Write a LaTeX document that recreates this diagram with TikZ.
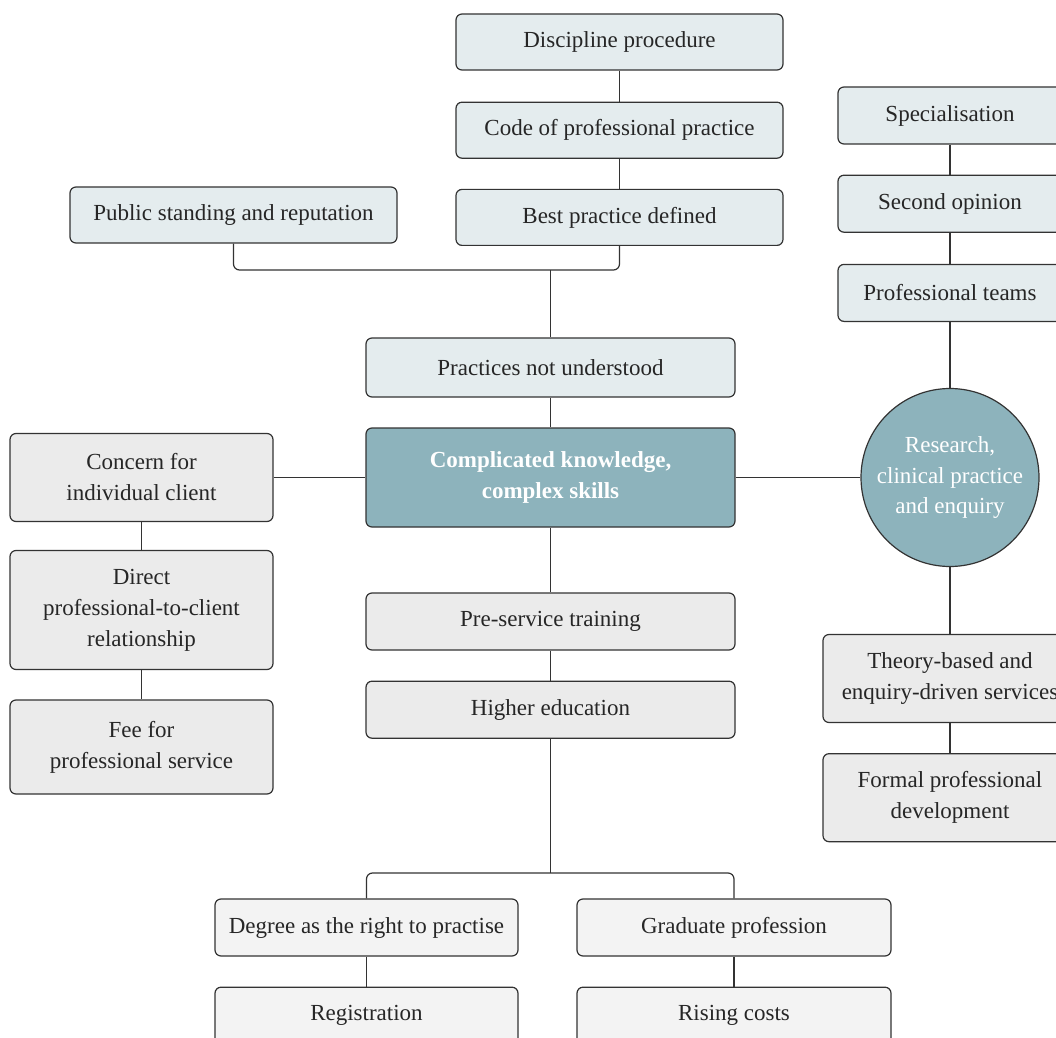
\documentclass[tikz,border=0pt]{standalone}
\usepackage{fontspec}
\setmainfont{Liberation Serif}
\usepackage{tikz}
\usetikzlibrary{shapes,positioning}

\definecolor{boxblue}{HTML}{E4ECEE}
\definecolor{boxgray}{HTML}{EBEBEB}
\definecolor{boxpale}{HTML}{F3F3F3}
\definecolor{coreteal}{HTML}{8DB3BC}
\definecolor{linegray}{HTML}{333333}

\begin{document}
\begin{tikzpicture}
                %% setup
                [
                    x=0.5pt, y=-0.5pt,
                    font=\fontsize{11.5}{15.5}\selectfont,
                    basenode/.style={rectangle, rounded corners=3pt, draw=linegray, line width=0.6pt, inner sep=0pt, align=center, text=black!85},
                    bluenode/.style={basenode, fill=boxblue, minimum height=28pt},
                    graynode/.style={basenode, fill=boxgray},
                    palenode/.style={basenode, fill=boxpale, minimum width=151.5pt, minimum height=28.5pt},
                    corenode/.style={basenode, fill=coreteal, text=white, font=\fontsize{11.5}{15.5}\selectfont\bfseries, minimum width=184.5pt, minimum height=49.5pt},
                    circlenode/.style={circle, draw=linegray, line width=0.6pt, fill=coreteal, text=white, inner sep=0pt, minimum size=89pt, align=center},
                    link/.style={draw=linegray, line width=0.6pt},
                ]

                    \useasboundingbox (0,0) rectangle (1056,1038);
                    \clip (0,0) rectangle (1056,1038);

                    %% Nodes
                    \node [bluenode, minimum width=163.5pt] (discipline) at (619.5,42) {Discipline procedure};
                    \node [bluenode, minimum width=163.5pt, below=15.5pt of discipline] (code) {Code of professional practice};
                    \node [bluenode, minimum width=163.5pt, below=15pt of code] (bestpractice) {Best practice defined};
                    \node [bluenode, minimum width=163.5pt] (publicstanding) at (233.5,215) {Public standing and reputation};
                    \node [bluenode, minimum width=184.5pt, minimum height=29.5pt] (notunderstood) at (550.5,367.5) {Practices not understood};
                    \node [corenode] (core) at (550.5,477.5) {Complicated knowledge,\\ complex skills};
                    \node [graynode, minimum width=131.5pt, minimum height=44pt] (concern) at (141.5,477.5) {Concern for\\ individual client};
                    \node [graynode, minimum width=131.5pt, minimum height=59.5pt] (direct) at (141.5,610) {Direct\\ professional-to-client\\ relationship};
                    \node [graynode, minimum width=131.5pt, minimum height=47pt] (fee) at (141.5,747) {Fee for\\ professional service};
                    \node [graynode, minimum width=184.5pt, minimum height=28.5pt] (preservice) at (550.5,621.5) {Pre-service training};
                    \node [graynode, minimum width=184.5pt, minimum height=28.5pt, below=15pt of preservice] (higher) {Higher education};
                    \node [palenode] (degree) at (366.5,927.5) {Degree as the right to practise};
                    \node [palenode, minimum width=157pt] (graduate) at (734,927.5) {Graduate profession};
                    \node [palenode, below=15pt of degree] (registration) {Registration};
                    \node [palenode, minimum width=157pt, below=15pt of graduate] (risingcosts) {Rising costs};
                    \node [bluenode, minimum width=112pt, minimum height=28.5pt] (specialisation) at (950,115.5) {Specialisation};
                    \node [bluenode, minimum width=112pt, minimum height=28.5pt, below=15pt of specialisation] (secondopinion) {Second opinion};
                    \node [bluenode, minimum width=112pt, minimum height=28.5pt, below=15.5pt of secondopinion] (teams) {Professional teams};
                    \node [circlenode] (research) at (950,477.5) {Research,\\ clinical practice\\ and enquiry};
                    \node [graynode, minimum width=127pt, minimum height=44pt] (theory) at (950,678.5) {Theory-based and\\ enquiry-driven services};
                    \node [graynode, minimum width=127pt, minimum height=44pt, below=15pt of theory] (formal) {Formal professional\\ development};
                    \coordinate (topbar) at (550.5,270);
                    \coordinate (bottombar) at (550.5,873);

                    %% Lines
                    \draw[link] (discipline) -- (code);
                    \draw[link] (code) -- (bestpractice);
                    \draw[link, rounded corners=3pt] (publicstanding.south) |- (topbar) -| (bestpractice.south);
                    \draw[link] (topbar) -- (notunderstood.north);
                    \draw[link] (notunderstood) -- (core);
                    \draw[link] (concern) -- (core);
                    \draw[link] (core) -- (research);
                    \draw[link] (concern) -- (direct);
                    \draw[link] (direct) -- (fee);
                    \draw[link] (core) -- (preservice);
                    \draw[link] (preservice) -- (higher);
                    \draw[link] (higher) -- (bottombar);
                    \draw[link, rounded corners=3pt] (degree.north) |- (bottombar) -| (graduate.north);
                    \draw[link] (degree) -- (registration);
                    \draw[link] (graduate) -- (risingcosts);
                    \draw[link] (specialisation) -- (secondopinion);
                    \draw[link] (secondopinion) -- (teams);
                    \draw[link] (teams) -- (research);
                    \draw[link] (research) -- (theory);
                    \draw[link] (theory) -- (formal);
                \end{tikzpicture}
\end{document}
